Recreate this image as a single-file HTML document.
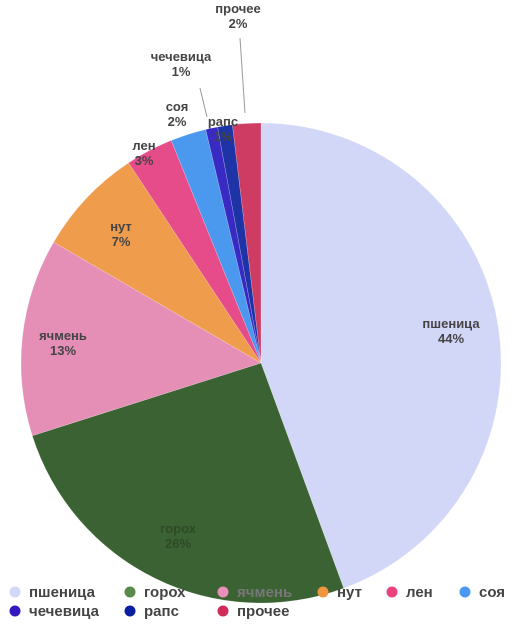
<!DOCTYPE html>
<html><head><meta charset="utf-8"><style>
body{margin:0;width:515px;height:621px;background:#fff;overflow:hidden;font-family:"Liberation Sans","DejaVu Sans",sans-serif}
svg text{font-family:"Liberation Sans","DejaVu Sans",sans-serif;font-weight:bold}
</style></head><body>
<svg id="chart" width="515" height="621" viewBox="0 0 515 621" xmlns="http://www.w3.org/2000/svg">
<g id="slices"></g><g id="labels"></g><g id="legend"></g>
</svg>
<script>
const categories=["пшеница","горох","ячмень","нут","лен","соя","чечевица","рапс","прочее"];
const values=[44.4,25.7,13.3,7.3,3.2,2.4,0.8,1.0,1.9];
const percentLabels=["44%","26%","13%","7%","3%","2%","1%","1%","2%"];
const colors=["#d3d7f7","#3b6232","#e58fb6","#ef9d4c","#e64b8a","#4b98ef","#3a2ac4","#1e33a6","#cf3c63"];
const legendColors=["#d3d7f7","#5a8a4a","#e890b8","#ef9540","#e8437f","#4a98f0","#3418c0","#0a1fa0","#d02c5a"];
const cx=261,cy=363,R=240,NS="http://www.w3.org/2000/svg";
const total=values.reduce((a,b)=>a+b,0);
function pt(a,r){return [cx+r*Math.sin(a),cy-r*Math.cos(a)];}
const gS=document.getElementById('slices'),gL=document.getElementById('labels'),gG=document.getElementById('legend');
const labelPos=[[451,323],[178,528],[63,335],[121,226],[144,145],[177,106],[181,56],[223,121],[238,8]];
const leaders={6:[[200,88],[207,117]],8:[[240,38],[245,113]]};
let acc=0;
values.forEach((v,i)=>{
  const a0=acc/total*2*Math.PI; acc+=v; const a1=acc/total*2*Math.PI;
  const p0=pt(a0,R),p1=pt(a1,R);
  const p=document.createElementNS(NS,'path');
  p.setAttribute('d',`M${cx},${cy}L${p0[0]},${p0[1]}A${R},${R} 0 ${a1-a0>Math.PI?1:0} 1 ${p1[0]},${p1[1]}Z`);
  p.setAttribute('fill',colors[i]);p.setAttribute('stroke','rgba(255,255,255,0.4)');p.setAttribute('stroke-width','0.5');
  
  
  gS.appendChild(p);
});
categories.forEach((c,i)=>{
  const lx=labelPos[i][0],ly=labelPos[i][1];
  if(leaders[i]){const o=leaders[i];
    const l=document.createElementNS(NS,'line');
    l.setAttribute('x1',o[0][0]);l.setAttribute('y1',o[0][1]);l.setAttribute('x2',o[1][0]);l.setAttribute('y2',o[1][1]);
    l.setAttribute('stroke','#999');l.setAttribute('stroke-width','1');
    
    
    gL.appendChild(l);
  }
  const t=document.createElementNS(NS,'text');
  t.setAttribute('x',lx);t.setAttribute('y',ly+5);t.setAttribute('text-anchor','middle');
  t.setAttribute('font-size','13');t.setAttribute('fill',i===1?'#2e4a26':'#444');
  
  
  const s1=document.createElementNS(NS,'tspan');s1.setAttribute('x',lx);s1.textContent=c;
  const s2=document.createElementNS(NS,'tspan');s2.setAttribute('x',lx);s2.setAttribute('dy','15');s2.textContent=percentLabels[i];
  t.appendChild(s1);t.appendChild(s2);gL.appendChild(t);
});
const lgX=[15,130,223,323,392,465,15,130,223],lgY=[592,592,592,592,592,592,611,611,611];
categories.forEach((c,i)=>{
  const g=document.createElementNS(NS,'g');
  
  
  const ci=document.createElementNS(NS,'circle');ci.setAttribute('cx',lgX[i]);ci.setAttribute('cy',lgY[i]);ci.setAttribute('r','5.5');ci.setAttribute('fill',legendColors[i]);
  const t=document.createElementNS(NS,'text');t.setAttribute('x',lgX[i]+14);t.setAttribute('y',lgY[i]+5);t.setAttribute('font-size','15');
  t.setAttribute('fill',i===2?'#777':'#444');t.textContent=c;
  g.appendChild(ci);g.appendChild(t);gG.appendChild(g);
});
</script>
</body></html>
